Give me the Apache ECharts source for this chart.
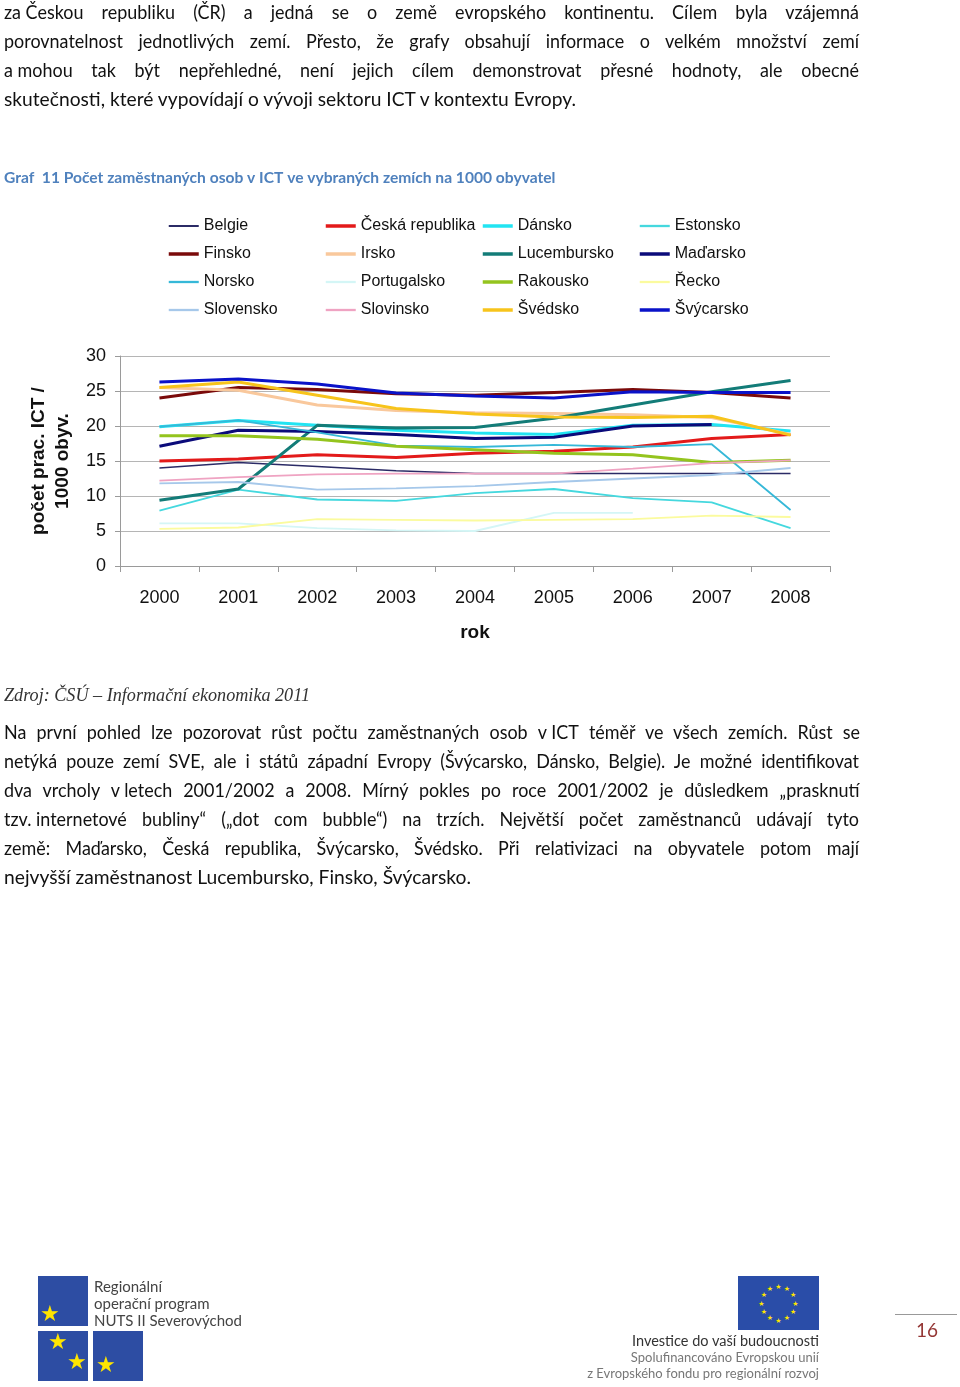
<!DOCTYPE html>
<html>
<head>
<meta charset="utf-8">
<script src="https://cdn.jsdelivr.net/npm/echarts@6/dist/echarts.min.js"></script>
<style>
  html, body { margin:0; padding:0; background:#fff; }
  body { width:960px; height:1387px; position:relative; overflow:hidden; }
  #chart { position:absolute; left:0; top:0; width:960px; height:1387px; }
  .ln { position:absolute; left:4px; height:29px; line-height:29px; white-space:nowrap;
        font-family:Lato, 'Open Sans', sans-serif; font-size:18.5px; color:#111; }
  .ln > span { display:inline-block; transform-origin:0 50%; }
  .ln .nb { word-spacing:0; }
  .src { font-family:'Liberation Serif', serif; font-style:italic; font-size:18px; color:#333; }
  .abs { position:absolute; }
  .sq { position:absolute; background:#2D4DA3; }
  .star { position:absolute; color:#FFE500; font-size:22px; line-height:22px; font-family:'DejaVu Sans', sans-serif; }
  .logotxt { position:absolute; font-family:Lato, sans-serif; color:#444; white-space:nowrap; }
</style>
</head>
<body>
<div id="chart"></div>

<div class="ln" data-t="855" data-j="1" style="top:-2px"><span><span class="nb">za Českou</span> republiku (ČR) a jedná se o země evropského kontinentu. Cílem byla vzájemná</span></div>
<div class="ln" data-t="855" data-j="1" style="top:27px"><span>porovnatelnost jednotlivých zemí. Přesto, že grafy obsahují informace o velkém množství zemí</span></div>
<div class="ln" data-t="855" data-j="1" style="top:56px"><span><span class="nb">a mohou</span> tak být nepřehledné, není jejich cílem demonstrovat přesné hodnoty, ale obecné</span></div>
<div class="ln" data-t="572" data-j="0" style="top:85px"><span>skutečnosti, které vypovídají o vývoji sektoru ICT v kontextu Evropy.</span></div>

<div class="ln src" data-t="306" data-j="0" style="top:681px"><span>Zdroj: ČSÚ – Informační ekonomika 2011</span></div>

<div class="ln" data-t="855" data-j="1" style="top:718px"><span>Na první pohled lze pozorovat růst počtu zaměstnaných osob <span class="nb">v ICT</span> téměř ve všech zemích. Růst se</span></div>
<div class="ln" data-t="855" data-j="1" style="top:747px"><span>netýká pouze zemí SVE, ale i států západní Evropy (Švýcarsko, Dánsko, Belgie). Je možné identifikovat</span></div>
<div class="ln" data-t="855" data-j="1" style="top:776px"><span>dva vrcholy <span class="nb">v letech</span> 2001/2002 a 2008. Mírný pokles po roce 2001/2002 je důsledkem „prasknutí</span></div>
<div class="ln" data-t="855" data-j="1" style="top:805px"><span><span class="nb">tzv. internetové</span> bubliny“ („dot com bubble“) na trzích. Největší počet zaměstnanců udávají tyto</span></div>
<div class="ln" data-t="855" data-j="1" style="top:834px"><span>země: Maďarsko, Česká republika, Švýcarsko, Švédsko. Při relativizaci na obyvatele potom mají</span></div>
<div class="ln" data-t="467" data-j="0" style="top:863px"><span>nejvyšší zaměstnanost Lucembursko, Finsko, Švýcarsko.</span></div>

<!-- left logo -->
<div class="sq" style="left:38px;top:1276px;width:50px;height:50px"></div>
<div class="sq" style="left:38px;top:1331px;width:50px;height:50px"></div>
<div class="sq" style="left:93px;top:1331px;width:50px;height:50px"></div>
<div class="star" style="left:40px;top:1303px">★</div>
<div class="star" style="left:48px;top:1331px">★</div>
<div class="star" style="left:67px;top:1351px">★</div>
<div class="star" style="left:96px;top:1354px">★</div>
<div class="logotxt" style="left:94px;top:1278px;font-size:15px;line-height:17px">Regionální<br>operační program<br>NUTS II Severovýchod</div>

<!-- right logo -->
<div class="sq" style="left:738px;top:1276px;width:81px;height:54px;background:#2A4DA8"></div>
<svg class="abs" style="left:738px;top:1276px" width="81" height="54" id="eustars"></svg>
<div class="logotxt" style="right:141px;top:1332px;font-size:14.5px;line-height:17px;color:#333;text-align:right">Investice do vaší budoucnosti</div>
<div class="logotxt" style="right:141px;top:1350px;font-size:13px;line-height:15px;color:#777;text-align:right">Spolufinancováno Evropskou unií</div>
<div class="logotxt" style="right:141px;top:1366px;font-size:13px;line-height:15px;color:#777;text-align:right">z Evropského fondu pro regionální rozvoj</div>

<!-- page number -->
<div class="abs" style="left:895px;top:1314px;width:62px;height:1px;background:#999"></div>
<div class="abs" style="left:916px;top:1318px;font-family:Lato,sans-serif;font-size:19px;color:#943634">16</div>

<script>
// ---- data ----
const years = ['2000','2001','2002','2003','2004','2005','2006','2007','2008'];
const yTicks = [0, 5, 10, 15, 20, 25, 30];

const belgie        = [14.0, 14.8, 14.2, 13.6, 13.2, 13.2, 13.2, 13.2, 13.2];
const ceskaRep      = [15.0, 15.3, 15.9, 15.5, 16.1, 16.4, 17.0, 18.2, 18.8];
const dansko        = [19.9, 20.8, 20.1, 19.4, 19.0, 18.8, 20.1, 20.2, 19.3];
const estonsko      = [7.9, 10.9, 9.5, 9.3, 10.4, 11.0, 9.7, 9.1, 5.4];
const finsko        = [24.0, 25.5, 25.2, 24.6, 24.4, 24.8, 25.2, 24.8, 24.0];
const irsko         = [25.5, 25.1, 23.0, 22.2, 21.9, 21.8, 21.6, 21.2, 18.8];
const lucembursko   = [9.4, 11.0, 20.1, 19.7, 19.8, 21.1, 23.0, 24.9, 26.5];
const madarsko      = [17.1, 19.4, 19.2, 18.8, 18.2, 18.4, 20.0, 20.2, null];
const norsko        = [19.9, 20.8, 19.1, 17.2, 17.0, 17.3, 17.0, 17.4, 8.0];
const portugalsko   = [6.1, 6.1, 5.4, 5.1, 5.0, 7.6, 7.6, null, null];
const rakousko      = [18.6, 18.6, 18.1, 17.1, 16.6, 16.1, 15.9, 14.8, 15.1];
const recko         = [5.3, 5.5, 6.7, 6.6, 6.5, 6.6, 6.7, 7.2, 7.0];
const slovensko     = [11.8, 12.0, 10.9, 11.1, 11.4, 12.0, 12.5, 13.0, 14.0];
const slovinsko     = [12.2, 12.7, 13.1, 13.2, 13.2, 13.2, 13.9, 14.7, 15.1];
const svedsko       = [25.5, 26.3, 24.4, 22.5, 21.7, 21.3, 21.2, 21.4, 18.7];
const svycarsko     = [26.3, 26.7, 26.0, 24.7, 24.3, 24.0, 24.9, 24.8, 24.8];

const seriesDefs = [
  ['Belgie', belgie, '#2B2B66', 1.5],
  ['Česká republika', ceskaRep, '#E31A1A', 3],
  ['Dánsko', dansko, '#22E4F2', 3],
  ['Estonsko', estonsko, '#45D8DE', 1.8],
  ['Finsko', finsko, '#7A0A0A', 3],
  ['Irsko', irsko, '#F9C89C', 3],
  ['Lucembursko', lucembursko, '#137C78', 3],
  ['Maďarsko', madarsko, '#0B0B7A', 3],
  ['Norsko', norsko, '#36B8D8', 1.8],
  ['Portugalsko', portugalsko, '#D4F6F6', 1.8],
  ['Rakousko', rakousko, '#94C41E', 3],
  ['Řecko', recko, '#FBFB9E', 1.8],
  ['Slovensko', slovensko, '#A6C8EA', 1.8],
  ['Slovinsko', slovinsko, '#EFA3C2', 1.8],
  ['Švédsko', svedsko, '#F7C41C', 3],
  ['Švýcarsko', svycarsko, '#0A12C8', 3]
];

const legendCols = [
  {left:167, names:['Belgie','Finsko','Norsko','Slovensko']},
  {left:324, names:['Česká republika','Irsko','Portugalsko','Slovinsko']},
  {left:481, names:['Dánsko','Lucembursko','Rakousko','Švédsko']},
  {left:638, names:['Estonsko','Maďarsko','Řecko','Švýcarsko']}
];
const styleOf = {};
seriesDefs.forEach(([n, , c, w]) => { styleOf[n] = { color: c, width: w }; });

const chart = echarts.init(document.getElementById('chart'), null, {renderer:'canvas'});
const axisFont = 'Liberation Sans, Arial, sans-serif';
chart.setOption({
  animation: false,
  title: {
    text: 'Graf  11 Počet zaměstnaných osob v ICT ve vybraných zemích na 1000 obyvatel',
    left: 4, top: 170, padding: 0,
    textStyle: { fontFamily: 'Lato, sans-serif', fontSize: 15.6, fontWeight: 'bold', color: '#4F81BD' }
  },
  legend: legendCols.map(c => ({
    orient: 'vertical', left: c.left, top: 218, padding: 0,
    itemWidth: 30, itemHeight: 16, itemGap: 12,
    selectedMode: false,
    itemStyle: { opacity: 0 },
    data: c.names.map(n => ({
      name: n,
      lineStyle: { color: styleOf[n].color, width: styleOf[n].width + 0.5 }
    })),
    textStyle: { fontFamily: axisFont, fontSize: 16, lineHeight: 16, color: '#111' }
  })),
  grid: { left: 120, right: 130, top: 356, bottom: 1387 - 566, containLabel: false },
  xAxis: {
    type: 'category', data: years, boundaryGap: true,
    name: 'rok', nameLocation: 'middle', nameGap: 57,
    nameTextStyle: { fontFamily: axisFont, fontSize: 19, fontWeight: 'bold', color: '#111' },
    axisLine: { lineStyle: { color: '#9a9a9a', width: 1 } },
    axisTick: { show: true, length: 6, interval: 0, lineStyle: { color: '#9a9a9a' } },
    axisLabel: { fontFamily: axisFont, fontSize: 18, color: '#111', margin: 23, interval: 0 },
    splitLine: { show: false }
  },
  yAxis: {
    type: 'value', min: yTicks[0], max: yTicks[yTicks.length - 1], interval: yTicks[1] - yTicks[0],
    name: 'počet prac. ICT /\n1000 obyv.', nameLocation: 'middle', nameRotate: 90, nameGap: 45,
    nameTextStyle: { fontFamily: axisFont, fontSize: 19, fontWeight: 'bold', color: '#111', lineHeight: 24, align: 'center' },
    axisLine: { show: true, lineStyle: { color: '#9a9a9a', width: 1 } },
    axisTick: { show: true, length: 5, lineStyle: { color: '#9a9a9a' } },
    axisLabel: { fontFamily: axisFont, fontSize: 18, color: '#111', margin: 14 },
    splitLine: { show: true, lineStyle: { color: '#b5b5b5', width: 1 } }
  },
  series: seriesDefs.map(([name, data, color, w]) => ({
    name, type: 'line', data, symbol: 'none', smooth: false, connectNulls: false,
    lineStyle: { color, width: w }, itemStyle: { color },
    emphasis: { disabled: true }, silent: true
  }))
});

// ---- EU flag stars ----
(function(){
  const svg = document.getElementById('eustars');
  const cx = 40.5, cy = 27, r = 17;
  let s = '';
  for (let i = 0; i < 12; i++) {
    const a = i * Math.PI / 6;
    const x = cx + r * Math.sin(a), y = cy - r * Math.cos(a);
    s += `<text x="${x}" y="${y + 2.5}" font-size="7" text-anchor="middle" fill="#FFE500" font-family="DejaVu Sans">★</text>`;
  }
  svg.innerHTML = s;
})();

// ---- fit text lines to reference widths ----
(function(){
  const lines = Array.from(document.querySelectorAll('.ln'));
  lines.forEach(el => {
    const span = el.querySelector(':scope > span');
    const target = +el.dataset.t;
    const just = el.dataset.j === '1';
    const w = span.getBoundingClientRect().width;
    if (just) {
      let sc = 0.97;
      if (w * sc > target) sc = target / w;
      let txt = span.innerHTML.replace(/<span class="nb">[^<]*<\/span>/g, 'X');
      const spaces = (txt.match(/ /g) || []).length;
      const extra = (target / sc - w) / Math.max(spaces, 1);
      if (extra > 0) span.style.wordSpacing = extra + 'px';
      span.style.transform = `scaleX(${sc})`;
    } else {
      span.style.transform = `scaleX(${target / w})`;
    }
  });
})();
</script>
</body>
</html>
